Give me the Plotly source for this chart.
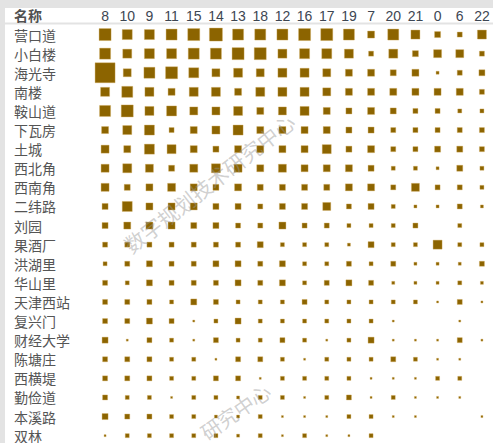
import plotly.graph_objects as go

columns = ["8", "10", "9", "11", "15", "14", "13", "18", "12", "16", "17", "19", "7", "20", "21", "0", "6", "22"]
stations = ["营口道", "小白楼", "海光寺", "南楼", "鞍山道", "下瓦房", "土城", "西北角", "西南角", "二纬路", "刘园",
            "果酒厂", "洪湖里", "华山里", "天津西站", "复兴门", "财经大学", "陈塘庄", "西横堤", "勤俭道", "本溪路", "双林"]

# estimated values (0 = no mark)
v_yingkoudao = [144, 100, 100, 121, 144, 169, 121, 121, 121, 144, 144, 121, 49, 121, 81, 36, 25, 81]
v_xiaobailou = [121, 81, 100, 100, 121, 121, 144, 144, 81, 100, 100, 81, 25, 81, 36, 64, 64, 25]
v_haiguangsi = [400, 64, 121, 144, 100, 64, 81, 64, 81, 81, 64, 49, 49, 36, 49, 9, 25, 36]
v_nanlou = [81, 121, 81, 49, 81, 81, 49, 81, 81, 81, 64, 49, 49, 49, 49, 49, 49, 25]
v_anshandao = [121, 144, 81, 100, 64, 64, 81, 49, 64, 81, 49, 36, 49, 36, 25, 25, 16, 16]
v_xiawafang = [49, 81, 100, 25, 49, 64, 100, 49, 49, 49, 49, 36, 36, 25, 25, 25, 25, 25]
v_tucheng = [64, 49, 100, 81, 49, 36, 49, 49, 49, 49, 81, 36, 49, 25, 25, 36, 36, 25]
v_xibeijiao = [64, 81, 64, 36, 64, 81, 64, 49, 64, 49, 49, 49, 36, 16, 16, 9, 36, 16]
v_xinanjiao = [64, 36, 49, 64, 49, 36, 49, 36, 36, 36, 36, 49, 49, 25, 64, 25, 25, 16]
v_erweilu = [36, 100, 49, 49, 49, 36, 36, 25, 36, 36, 64, 25, 36, 16, 9, 9, 25, 9]
v_liuyuan = [36, 49, 49, 49, 36, 36, 25, 25, 49, 25, 25, 16, 16, 16, 25, 0, 16, 0]
v_guojiuchang = [25, 25, 25, 25, 25, 25, 25, 36, 16, 16, 16, 9, 36, 16, 16, 81, 16, 16]
v_honghuli = [16, 25, 36, 25, 25, 36, 36, 25, 36, 16, 16, 25, 16, 25, 9, 9, 9, 25]
v_huashanli = [25, 16, 36, 25, 25, 25, 36, 25, 36, 16, 25, 36, 25, 9, 9, 9, 16, 9]
v_tianjinxizhan = [25, 25, 25, 16, 36, 25, 16, 16, 16, 25, 16, 16, 16, 16, 16, 4, 25, 4]
v_fuxingmen = [25, 25, 36, 25, 4, 16, 36, 16, 16, 16, 16, 16, 16, 4, 0, 0, 4, 0]
v_caijingdaxue = [36, 4, 25, 16, 4, 25, 16, 16, 25, 16, 4, 16, 36, 4, 4, 4, 25, 4]
v_chentangzhuang = [25, 25, 25, 16, 16, 4, 25, 25, 16, 4, 16, 16, 16, 25, 16, 4, 4, 0]
v_xihengdi = [25, 25, 25, 16, 16, 25, 25, 4, 16, 16, 16, 16, 4, 4, 4, 16, 16, 0]
v_qinjiandao = [25, 16, 16, 4, 16, 16, 9, 16, 16, 4, 16, 25, 4, 16, 4, 4, 4, 0]
v_benxilu = [36, 25, 25, 16, 16, 9, 9, 16, 4, 4, 4, 16, 16, 4, 4, 0, 0, 4]
v_shuanglin = [4, 16, 16, 16, 16, 16, 9, 16, 4, 16, 4, 4, 16, 0, 0, 0, 0, 0]

values = [v_yingkoudao, v_xiaobailou, v_haiguangsi, v_nanlou, v_anshandao, v_xiawafang, v_tucheng,
          v_xibeijiao, v_xinanjiao, v_erweilu, v_liuyuan, v_guojiuchang, v_honghuli, v_huashanli,
          v_tianjinxizhan, v_fuxingmen, v_caijingdaxue, v_chentangzhuang, v_xihengdi, v_qinjiandao,
          v_benxilu, v_shuanglin]

xs, ys, ss = [], [], []
for ri, row in enumerate(values):
    for ci, v in enumerate(row):
        if v > 0:
            xs.append(ci)
            ys.append(ri)
            ss.append(v)

W, H = 493, 443
L, T = 94, 25
pw, ph = W - L, H - T

fig = go.Figure()
fig.add_trace(go.Scatter(
    x=xs, y=ys, mode="markers",
    marker=dict(symbol="square", size=ss, sizemode="area", sizeref=2, sizemin=1, opacity=1,
                color="#8c6400", line=dict(width=0.6, color="rgba(210,170,90,0.6)")),
    hoverinfo="skip", showlegend=False,
))

nrows_visible = ph / 19.1
fig.update_layout(
    width=W, height=H,
    margin=dict(l=L, r=0, t=T, b=0, autoexpand=False),
    paper_bgcolor="white", plot_bgcolor="white",
    xaxis=dict(side="top", tickmode="array", tickvals=list(range(len(columns))), ticktext=columns,
               range=[-0.5, len(columns) - 0.5], showgrid=False, zeroline=False, ticks="",
               tickfont=dict(family="Arial, Liberation Sans", size=14, color="#3d4652"),
               showline=False, fixedrange=True, automargin=False),
    yaxis=dict(range=[nrows_visible - 0.5, -0.5], showticklabels=False, showgrid=False,
               zeroline=False, ticks="", fixedrange=True, automargin=False),
)

# row labels (left aligned)
for ri, name in enumerate(stations):
    fig.add_annotation(x=-L / pw + 12 / pw, y=ri, xref="paper", yref="y", text=name,
                       showarrow=False, xanchor="left", yanchor="middle",
                       font=dict(family="Noto Sans CJK SC", size=14, color="#555555"))

# header label
fig.add_annotation(x=-L / pw + 12 / pw, y=1 + (T - 15) / ph, xref="paper", yref="paper", text="<b>名称</b>",
                   showarrow=False, xanchor="left", yanchor="middle",
                   font=dict(family="Noto Sans CJK SC", size=14, color="#505050"))

# frame decorations: top grey band, left grey strip, header separator
fig.add_shape(type="rect", xref="paper", yref="paper", x0=-L / pw, x1=1.01, y0=1 + (T - 8) / ph, y1=1 + T / ph,
              fillcolor="#e3e3e3", line=dict(width=0), layer="below")
fig.add_shape(type="rect", xref="paper", yref="paper", x0=-L / pw, x1=-L / pw + 5 / pw, y0=-0.01, y1=1 + T / ph,
              fillcolor="#e3e3e3", line=dict(width=0), layer="below")
fig.add_shape(type="line", xref="paper", yref="paper", x0=-L / pw + 5 / pw, x1=1.01, y0=1 + 1.5 / ph, y1=1 + 1.5 / ph,
              line=dict(color="#e3e3e3", width=2))

# watermarks
fig.add_annotation(x=(209 - L) / pw, y=1 - (183 - T) / ph, xref="paper", yref="paper",
                   text="数字规划技术研究中心", showarrow=False, textangle=-38,
                   xanchor="center", yanchor="middle",
                   font=dict(family="Noto Sans CJK SC", size=21, color="rgba(150,150,150,0.45)"))
fig.add_annotation(x=(235 - L) / pw, y=1 - (411 - T) / ph, xref="paper", yref="paper",
                   text="研究中心", showarrow=False, textangle=-35,
                   xanchor="center", yanchor="middle",
                   font=dict(family="Noto Sans CJK SC", size=20, color="rgba(150,150,150,0.45)"))

fig.write_html("out.html", config={"displayModeBar": False},
               post_script="document.body.style.margin='0';document.body.style.padding='0';")
